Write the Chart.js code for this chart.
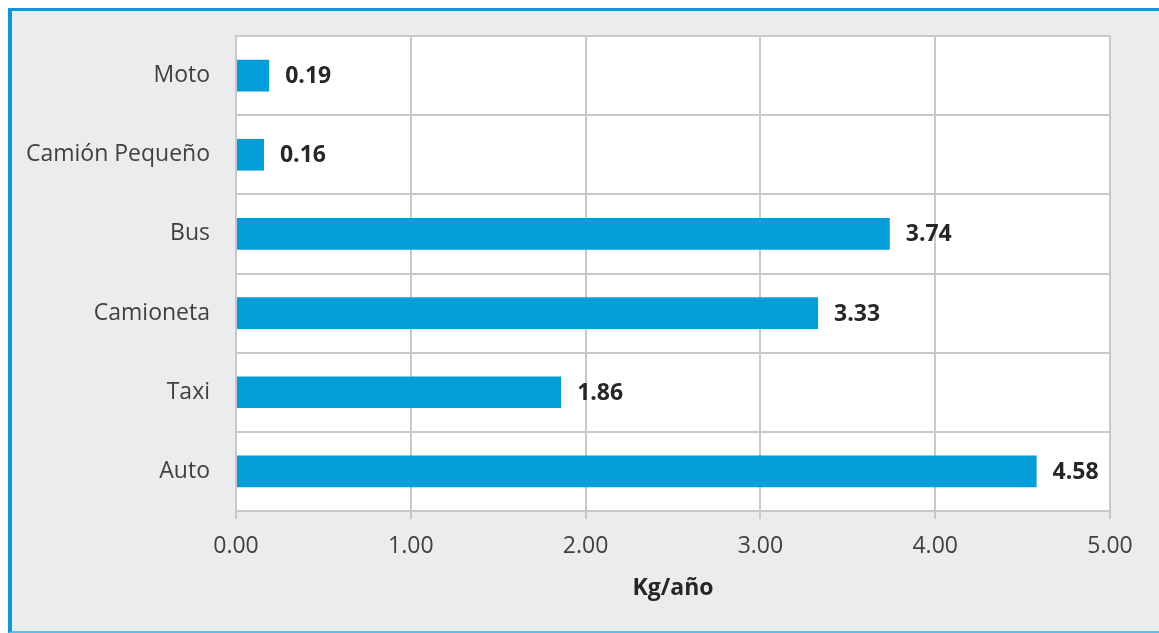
<!DOCTYPE html>
<html>
<head>
<meta charset="utf-8">
<script src="https://cdn.jsdelivr.net/npm/chart.js@4"></script>
<style>
  html, body { margin: 0; padding: 0; background: #ffffff; }
  body { width: 1159px; height: 633px; position: relative; overflow: hidden; }
  .frame {
    position: absolute; left: 8px; top: 8px; right: -4px; bottom: 0;
    background: #ebeced;
    border-top: 3px solid #0a9ad8;
    border-left: 4px solid #0a9ad8;
    border-bottom: 2px solid #5fbde9;
  }
  #chart { position: absolute; left: 0; top: 0; }
</style>
</head>
<body>
<div class="frame"></div>
<canvas id="chart" width="1159" height="633"></canvas>
<script>
// Emisiones por tipo de vehículo (kg/año)
const categories = ['Moto', 'Camión Pequeño', 'Bus', 'Camioneta', 'Taxi', 'Auto'];
const values = [0.19, 0.16, 3.74, 3.33, 1.86, 4.58];
const xTicks = [0, 1, 2, 3, 4, 5];
const axisTitle = 'Kg/año';

const FONT = "'Open Sans', 'DejaVu Sans', sans-serif";
const GRID = '#c8c8c8';
const BAR = '#039dd9';

// White plot area behind the bars
const plotBackground = {
  id: 'plotBackground',
  beforeDraw(chart) {
    const { ctx, chartArea: a } = chart;
    ctx.save();
    ctx.fillStyle = '#ffffff';
    ctx.fillRect(a.left, a.top, a.right - a.left, a.bottom - a.top);
    ctx.restore();
  }
};

// Value written just past the end of each bar
const valueLabels = {
  id: 'valueLabels',
  afterDatasetsDraw(chart) {
    const { ctx } = chart;
    const meta = chart.getDatasetMeta(0);
    const data = chart.data.datasets[0].data;
    ctx.save();
    ctx.font = `bold 23px ${FONT}`;
    ctx.fillStyle = '#262626';
    ctx.textAlign = 'left';
    ctx.textBaseline = 'middle';
    meta.data.forEach((bar, i) => {
      ctx.fillText(data[i].toFixed(2), bar.x + 16, bar.y + 1);
    });
    ctx.restore();
  }
};

new Chart(document.getElementById('chart'), {
  type: 'bar',
  data: {
    labels: categories,
    datasets: [{
      data: values,
      backgroundColor: BAR,
      borderWidth: 0,
      barPercentage: 0.4,
      categoryPercentage: 1.0
    }]
  },
  options: {
    indexAxis: 'y',
    responsive: false,
    animation: false,
    layout: { padding: { top: 36, right: 49, left: 0, bottom: 0 } },
    plugins: {
      legend: { display: false },
      tooltip: { enabled: false }
    },
    scales: {
      x: {
        type: 'linear',
        min: xTicks[0],
        max: xTicks[xTicks.length - 1],
        afterBuildTicks(scale) {
          scale.ticks = xTicks.map(v => ({ value: v }));
        },
        afterFit(scale) { scale.height = 122; },
        grid: { color: GRID, lineWidth: 2, tickLength: 8, drawTicks: true },
        border: { color: GRID, width: 2 },
        ticks: {
          padding: 14,
          color: '#404040',
          font: { family: FONT, size: 23 },
          callback: v => Number(v).toFixed(2)
        },
        title: {
          display: true,
          text: axisTitle,
          color: '#262626',
          font: { family: FONT, size: 23, weight: 'bold' },
          padding: { top: 0, bottom: 31 }
        }
      },
      y: {
        afterFit(scale) {
          scale.width = 236;
          scale.paddingTop = 0;
          scale.paddingBottom = 0;
        },
        grid: { color: GRID, lineWidth: 2, drawTicks: false, offset: true },
        border: { color: GRID, width: 2 },
        ticks: {
          padding: 26,
          color: '#404040',
          font: { family: FONT, size: 23 }
        }
      }
    }
  },
  plugins: [plotBackground, valueLabels]
});
</script>
</body>
</html>
